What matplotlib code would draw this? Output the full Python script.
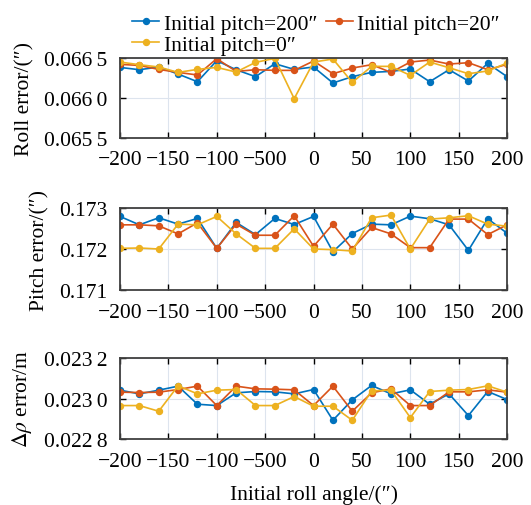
import matplotlib
matplotlib.use('Agg')
import matplotlib.pyplot as plt

serif = ['Liberation Serif', 'DejaVu Serif']
plt.rcParams['font.family'] = serif
plt.rcParams['mathtext.fontset'] = 'stix'
plt.rcParams['font.size'] = 15

# Data
roll_angle = [-200, -180, -160, -140, -120, -100, -80, -60, -40, -20, 0,
              20, 40, 60, 80, 100, 120, 140, 160, 180, 200]

roll_p200 = [0.066383, 0.066354, 0.066388, 0.066300, 0.066204, 0.066467, 0.066354,
             0.066267, 0.066429, 0.066358, 0.066388, 0.066188, 0.066267, 0.066321,
             0.066333, 0.066363, 0.066204, 0.066354, 0.066213, 0.066433, 0.066267]
roll_p20 = [0.066421, 0.066408, 0.066358, 0.066321, 0.066288, 0.066492, 0.066333,
            0.066354, 0.066346, 0.066346, 0.066463, 0.066304, 0.066375, 0.066417,
            0.066321, 0.066450, 0.066475, 0.066425, 0.066442, 0.066354, 0.066421]
roll_p0 = [0.066450, 0.066417, 0.066388, 0.066321, 0.066358, 0.066383, 0.066325,
           0.066446, 0.066496, 0.065992, 0.066450, 0.066488, 0.066196, 0.066396,
           0.066396, 0.066283, 0.066450, 0.066379, 0.066304, 0.066338, 0.066438]

pitch_p200 = [0.172795, 0.172590, 0.172762, 0.172607, 0.172746, 0.172016, 0.172648,
              0.172352, 0.172746, 0.172598, 0.172795, 0.171934, 0.172377, 0.172607,
              0.172590, 0.172803, 0.172738, 0.172590, 0.171967, 0.172738, 0.172385]
pitch_p20 = [0.172590, 0.172590, 0.172566, 0.172369, 0.172639, 0.172016, 0.172607,
             0.172336, 0.172336, 0.172811, 0.172066, 0.172607, 0.172000, 0.172525,
             0.172369, 0.172033, 0.172033, 0.172730, 0.172730, 0.172352, 0.172590]
pitch_p0 = [0.172016, 0.172025, 0.172000, 0.172607, 0.172590, 0.172795, 0.172369,
            0.172016, 0.172016, 0.172492, 0.172000, 0.171984, 0.171951, 0.172762,
            0.172828, 0.172000, 0.172730, 0.172762, 0.172811, 0.172607, 0.172557]

rho_p200 = [0.0230413, 0.0230231, 0.0230413, 0.0230612, 0.0229719, 0.0229653, 0.0230281,
            0.0230347, 0.0230331, 0.0230231, 0.0230446, 0.0228926, 0.0229934, 0.0230645,
            0.0230231, 0.0230430, 0.0229719, 0.0230231, 0.0229157, 0.0230347, 0.0229950]
rho_p20 = [0.0230314, 0.0230298, 0.0230314, 0.0230446, 0.0230612, 0.0229653, 0.0230612,
           0.0230479, 0.0230463, 0.0230430, 0.0229653, 0.0230612, 0.0229372, 0.0230281,
           0.0230479, 0.0229653, 0.0229653, 0.0230331, 0.0230331, 0.0230430, 0.0230314]
rho_p0 = [0.0229653, 0.0229653, 0.0229372, 0.0230628, 0.0230231, 0.0230413, 0.0230446,
          0.0229653, 0.0229653, 0.0230099, 0.0229620, 0.0229620, 0.0228926, 0.0230380,
          0.0230413, 0.0229058, 0.0230347, 0.0230413, 0.0230446, 0.0230628, 0.0230314]

x_ticks = [-200, -150, -100, -50, 0, 50, 100, 150, 200]
x_ticklabels = ['\u2212200', '\u2212150', '\u2212100', '\u2212500', '0', '50', '100', '150', '200']

panels = [
    (roll_p200, roll_p20, roll_p0, [0.0655, 0.0660, 0.0665],
     ['0.065\u20095', '0.066\u20090', '0.066\u20095'], 'Roll error/(\u2033)'),
    (pitch_p200, pitch_p20, pitch_p0, [0.171, 0.172, 0.173],
     ['0.171', '0.172', '0.173'], 'Pitch error/(\u2033)'),
    (rho_p200, rho_p20, rho_p0, [0.0228, 0.0230, 0.0232],
     ['0.022\u20098', '0.023\u20090', '0.023\u20092'], r'$\mathit{\Delta\rho}$ error/m'),
]

colors = ['#0072BD', '#D95319', '#EDB120']
names = ['Initial pitch=200\u2033', 'Initial pitch=20\u2033', 'Initial pitch=0\u2033']

fig = plt.figure(figsize=(5.31, 5.06), dpi=100)
positions = [[0.226, 0.7253, 0.729, 0.158],
             [0.226, 0.4249, 0.729, 0.162],
             [0.226, 0.1304, 0.729, 0.160]]

handles = []
for i, (a, b, c, yt, ytl, ylab) in enumerate(panels):
    ax = fig.add_axes(positions[i])
    for series, col, name in zip([a, b, c], colors, names):
        h, = ax.plot(roll_angle, series, '-o', color=col, lw=1.2, ms=4.3, label=name)
        if i == 0:
            handles.append(h)
    ax.set_xlim(-200, 200)
    ax.set_ylim(yt[0], yt[-1])
    ax.set_xticks(x_ticks)
    ax.set_xticklabels(x_ticklabels)
    ax.set_yticks(yt)
    ax.set_yticklabels(ytl)
    ax.grid(True, color='#dde4ee', lw=0.8)
    ax.set_axisbelow(True)
    ax.tick_params(direction='in', top=True, right=True, length=4, width=1.0,
                   labelsize=15.5, pad=9)
    for sp in ax.spines.values():
        sp.set_color('#404040')
        sp.set_linewidth(1.3)
    ax.set_ylabel(ylab, fontsize=15.5, labelpad=7)
    if i == 2:
        ax.set_xlabel('Initial roll angle/(\u2033)', fontsize=15.5, labelpad=10)

# row-major order for a 2-column legend
fig.legend([handles[0], handles[2], handles[1]], [names[0], names[2], names[1]],
           ncol=2, loc='upper left', bbox_to_anchor=(0.225, 0.997), frameon=False,
           prop={'family': serif, 'size': 15.5}, handlelength=1.25,
           handletextpad=0.2, columnspacing=0.4, labelspacing=0.05,
           borderaxespad=0.2)

fig.savefig('out.png', dpi=100)
